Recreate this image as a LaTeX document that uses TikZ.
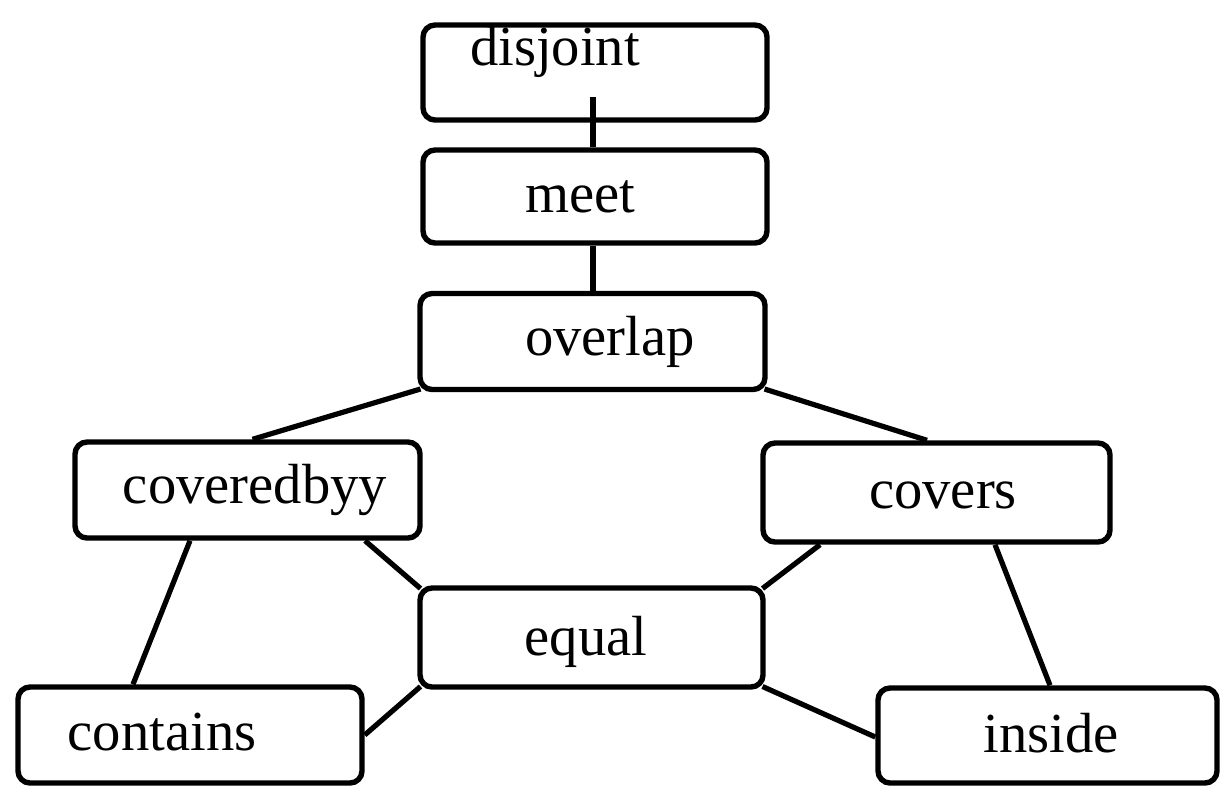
\documentclass[tikz,border=0pt]{standalone}
\usepackage{fontspec}
\setmainfont{Liberation Serif}
\begin{document}
\begin{tikzpicture}[x=0.5pt,y=-0.5pt,
  relbox/.style={draw=black, line width=2.7pt, rounded corners=6pt, inner sep=0pt,
    minimum width=#1*0.5pt, minimum height=48pt},
  relbox/.default=344,
  link/.style={draw=black, line width=2.6pt},
  reltext/.style={anchor=base, inner sep=0pt, font=\fontsize{28.3}{34}\selectfont}]
\useasboundingbox (0,0) rectangle (1220,788);

% relation boxes
\node[relbox, minimum height=47.5pt] (disjoint) at (595,72.5) {};
\node[relbox, minimum height=46.5pt] (meet) at (595,196.5) {};
\node[relbox=345] (overlap) at (592.5,341.5) {};
\node[relbox=345] (coveredbyy) at (247.5,490) {};
\node[relbox=347, minimum height=49.5pt] (covers) at (936.5,492.5) {};
\node[relbox=343, minimum height=49.5pt] (equal) at (591.5,637.5) {};
\node[relbox] (contains) at (190,735) {};
\node[relbox=339, minimum height=47.5pt] (inside) at (1047.5,735.5) {};

% labels
\node[reltext] (t-disjoint) at (555,65) {disjoint};
\node[reltext] (t-meet) at (580,212) {meet};
\node[reltext] (t-overlap) at (610,355) {overlap};
\node[reltext] (t-coveredbyy) at (255,503) {coveredbyy};
\node[reltext] (t-covers) at (943,508) {covers};
\node[reltext] (t-equal) at (586,655) {equal};
\node[reltext] (t-contains) at (162,750) {contains};
\node[reltext] (t-inside) at (1051,752) {inside};

% connectors (corner ends pulled in onto the rounded corners)
\coordinate (djstem) at (593,97);
\draw[link] (djstem) -- (djstem |- meet.north);
\draw[link] (djstem |- meet.south) -- (djstem |- overlap.north);
\draw[link] ([shift={(1.6pt,1.6pt)}]overlap.south west) -- ([xshift=2.5pt]coveredbyy.north);
\draw[link] ([shift={(-1.6pt,1.6pt)}]overlap.south east) -- ([xshift=-4.75pt]covers.north);
\draw[link] ([xshift=-28.75pt]coveredbyy.south) -- ([xshift=-28.5pt]contains.north);
\draw[link] ([xshift=58.75pt]coveredbyy.south) -- ([shift={(1.6pt,-1.6pt)}]equal.north west);
\draw[link] ([xshift=-58.25pt]covers.south) -- ([shift={(-1.6pt,-1.6pt)}]equal.north east);
\draw[link] ([xshift=29.25pt]covers.south) -- ([xshift=1.25pt]inside.north);
\draw[link] ([shift={(1.6pt,1.6pt)}]equal.south west) -- (contains.east);
\draw[link] ([shift={(-1.6pt,1.6pt)}]equal.south east) -- ([yshift=-0.75pt]inside.west);
\end{tikzpicture}
\end{document}
